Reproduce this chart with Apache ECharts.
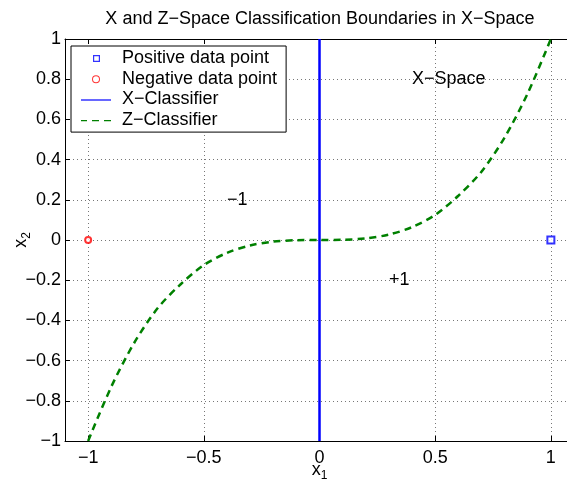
<!DOCTYPE html>
<html><head><meta charset="utf-8">
<script src="https://cdn.jsdelivr.net/npm/echarts@6/dist/echarts.min.js"></script>
<style>html,body{margin:0;padding:0;background:#fff}#c{width:567px;height:485px}</style>
</head><body><div id="c"></div>
<script>
const titleText = 'X and Z\u2212Space Classification Boundaries in X\u2212Space';
const xTicks = [-1, -0.5, 0, 0.5, 1];
const posX = [1], posY = [0];
const negX = [-1], negY = [0];
const xClsX = [0, 0], xClsY = [-1, 1];
const zX = [-1, -0.9, -0.8, -0.7, -0.6, -0.5, -0.4, -0.3, -0.2, -0.1, 0, 0.1, 0.2, 0.3, 0.4, 0.5, 0.6, 0.7, 0.8, 0.9, 1];
const zY = [-1, -0.73, -0.51, -0.34, -0.22, -0.125, -0.064, -0.027, -0.008, -0.001, 0, 0.001, 0.008, 0.027, 0.064, 0.125, 0.22, 0.34, 0.51, 0.73, 1];
const annX = [-0.4, 0.3, 0.4];
const annY = [0.2, -0.2, 0.8];
const annText = ['\u22121', '+1', 'X\u2212Space'];
const legendNames = ['Positive data point', 'Negative data point', 'X\u2212Classifier', 'Z\u2212Classifier'];

const FONT = 'Liberation Sans, Arial, Helvetica, sans-serif';
const FS = 18;
const minus = v => String(v).replace('-', '\u2212');
const zip = (a, b) => a.map((v, i) => [v, b[i]]);

const BOX = 'M0,0M30,16';
const icons = {
  square: 'path://' + BOX + 'M12,5h7v7h-7zM13.2,6.2v4.6h4.6v-4.6z',
  circle: 'path://' + BOX + 'M19,8.5a4,4 0 1,0 -8,0a4,4 0 1,0 8,0zM18,8.5a3,3 0 1,1 -6,0a3,3 0 1,1 6,0z',
  solid: 'path://' + BOX + 'M0,8h30v1.2h-30z',
  dashed: 'path://' + BOX + 'M0,8h6v1.2h-6zM11,8h7v1.2h-7zM23,8h7v1.2h-7z'
};
const nameRich = {
  a: {fontSize: FS, color: '#000', fontFamily: FONT, lineHeight: 20},
  s: {fontSize: 12, color: '#000', fontFamily: FONT, lineHeight: 12, padding: [12, 0, 0, 0]}
};

const chart = echarts.init(document.getElementById('c'), null, {renderer: 'canvas'});
chart.setOption({
  animation: false,
  backgroundColor: '#fff',
  textStyle: {fontFamily: FONT},
  graphic: [{
    type: 'text', x: 320, y: 19,
    style: {text: titleText, align: 'center', verticalAlign: 'middle', font: FS + 'px ' + FONT, fill: '#000'}
  }],
  grid: {left: 65, top: 39, bottom: 44, right: -7, containLabel: false, outerBoundsMode: 'none'},
  legend: {
    orient: 'vertical', left: 71, top: 46,
    data: [
      {name: legendNames[0], icon: icons.square, itemStyle: {color: '#0000ff', borderWidth: 0}},
      {name: legendNames[1], icon: icons.circle, itemStyle: {color: '#ff0000', borderWidth: 0}},
      {name: legendNames[2], icon: icons.solid, itemStyle: {color: '#0000ff', borderWidth: 0}},
      {name: legendNames[3], icon: icons.dashed, itemStyle: {color: '#008000', borderWidth: 0}}
    ],
    itemWidth: 30, itemHeight: 16, itemGap: 2.7,
    padding: [3, 9, 3, 10],
    borderColor: '#000', borderWidth: 1, backgroundColor: '#fff',
    textStyle: {fontSize: FS, lineHeight: 18, color: '#000', fontFamily: FONT, padding: [0, 0, 0, 6]},
    selectedMode: false
  },
  xAxis: [{
    type: 'value', min: -1.1, max: 1.1, position: 'bottom',
    axisLine: {onZero: false, lineStyle: {color: '#000', width: 1}},
    axisTick: {inside: true, length: 5, customValues: xTicks, lineStyle: {color: '#000'}},
    axisLabel: {customValues: xTicks, formatter: minus, color: '#000', fontSize: FS, margin: 8, fontFamily: FONT},
    splitLine: {show: true, lineStyle: {color: '#777', type: [1, 3], width: 1}},
    name: '{a|x}{s|1}', nameLocation: 'middle', nameGap: 19, nameMoveOverlap: false,
    nameTextStyle: {rich: nameRich}
  }, {
    type: 'value', min: -1.1, max: 1.1, position: 'top',
    axisLine: {onZero: false, lineStyle: {color: '#000', width: 1}},
    axisTick: {inside: true, length: 5, customValues: xTicks, lineStyle: {color: '#000'}},
    axisLabel: {show: false},
    splitLine: {show: false}
  }],
  yAxis: [{
    type: 'value', min: -1, max: 1, interval: 0.2, position: 'left',
    axisLine: {show: true, onZero: false, lineStyle: {color: '#000', width: 1}},
    axisTick: {show: true, inside: true, length: 5, lineStyle: {color: '#000'}},
    axisLabel: {formatter: v => minus(Math.round(v * 10) / 10), color: '#000', fontSize: FS, margin: 4, fontFamily: FONT},
    splitLine: {show: true, lineStyle: {color: '#777', type: [1, 3], width: 1}},
    name: '{a|x}{s|2}', nameLocation: 'middle', nameGap: 34, nameRotate: 90, nameMoveOverlap: false,
    nameTextStyle: {rich: nameRich}
  }],
  series: [
    {
      name: legendNames[2], type: 'line', data: zip(xClsX, xClsY), symbol: 'none',
      lineStyle: {color: '#0000ff', width: 2.5}, itemStyle: {color: '#0000ff'}, z: 3
    },
    {
      name: legendNames[3], type: 'line', data: zip(zX, zY), symbol: 'none', smooth: 0.3,
      lineStyle: {color: '#008000', width: 2.5, type: [7, 5]}, itemStyle: {color: '#008000'}, z: 3
    },
    {
      name: legendNames[0], type: 'scatter', data: zip(posX, posY), symbol: 'rect', symbolSize: 7,
      itemStyle: {color: '#fff', borderColor: '#0000ff', borderWidth: 2}, z: 4
    },
    {
      name: legendNames[1], type: 'scatter', data: zip(negX, negY), symbol: 'circle', symbolSize: 6,
      itemStyle: {color: '#fff', borderColor: '#ff0000', borderWidth: 2}, z: 4
    },
    {
      name: 'annotations', type: 'scatter', symbolSize: 0, silent: true,
      data: annX.map((x, i) => ({value: [x, annY[i]], label: {formatter: annText[i]}})),
      label: {show: true, position: 'right', distance: 0, color: '#000', opacity: 1, textBorderWidth: 0, fontSize: FS, fontFamily: FONT},
      emphasis: {disabled: true},
      z: 5
    }
  ]
});
</script></body></html>
